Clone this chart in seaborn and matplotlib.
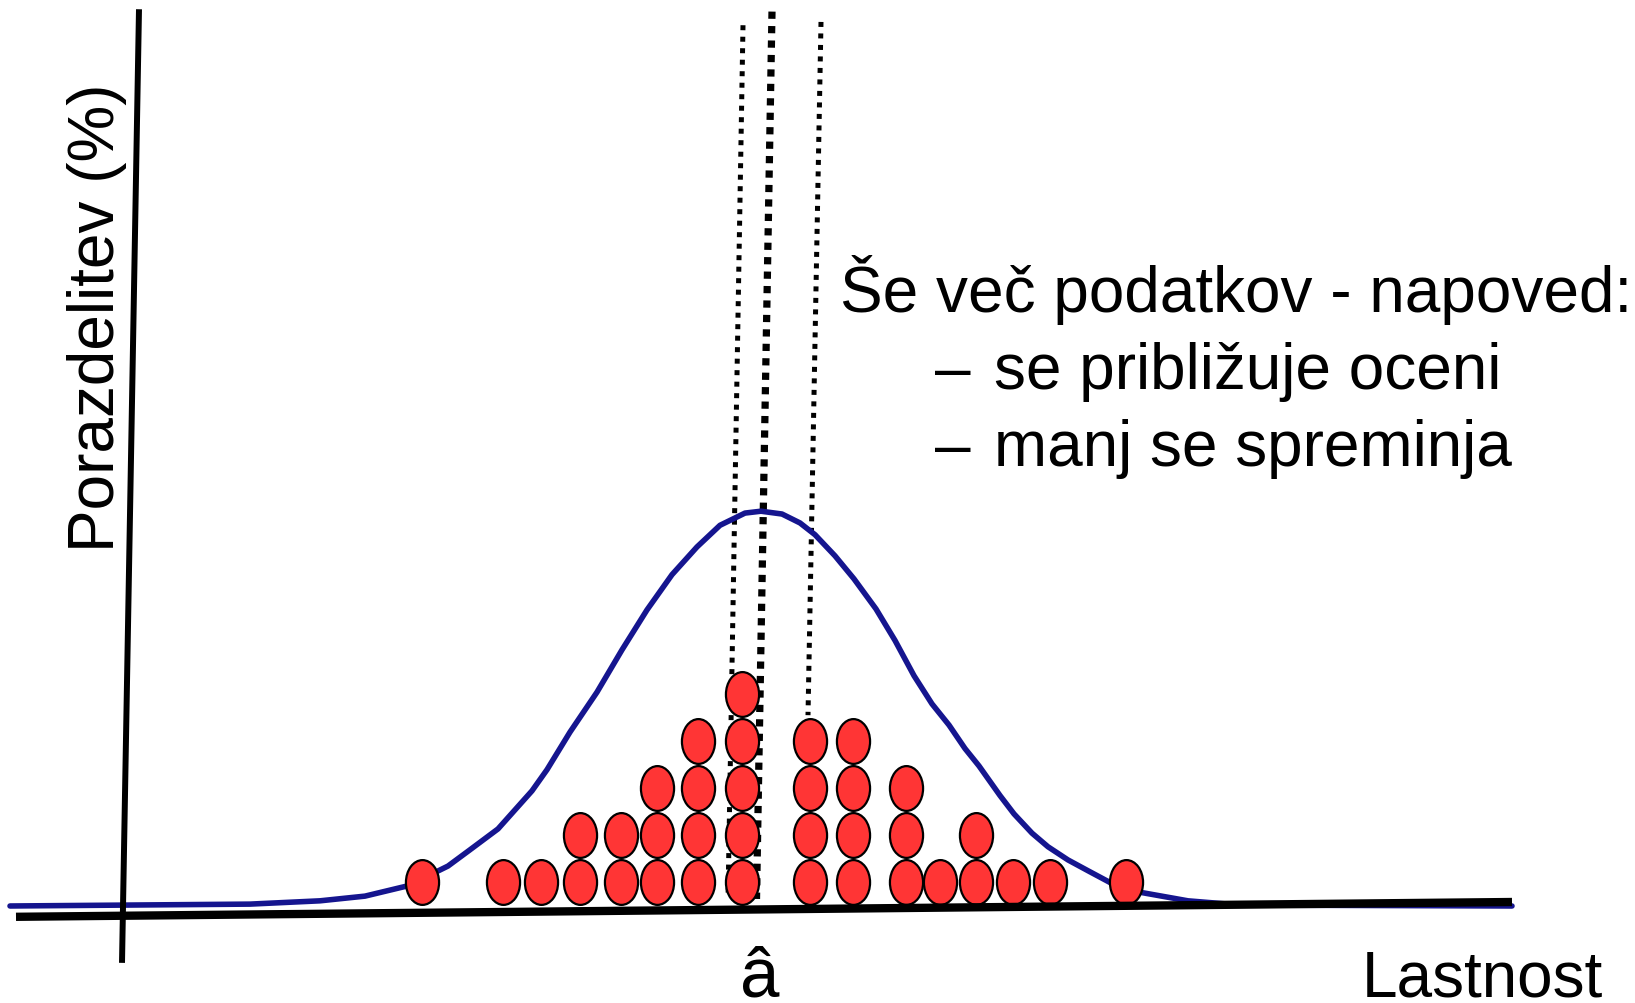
import numpy as np
import pandas as pd
import matplotlib
matplotlib.use("Agg")  # no display in the sandbox
import matplotlib.pyplot as plt
import matplotlib.path as mpath
import seaborn as sns

# Stacked sample points: column position on the "Lastnost" axis and how many
# points are stacked in that column (1 unit in y = one point)
column_x = [-3.38, -2.57, -2.19, -1.80, -1.39, -1.03, -0.62, -0.18,
            0.50, 0.93, 1.46, 1.80, 2.16, 2.53, 2.90, 3.66]
column_counts = [1, 1, 1, 2, 2, 3, 4, 5, 4, 4, 3, 1, 2, 1, 1, 1]

# Predictive distribution curve
curve_x = [-7.50, -5.10, -4.40, -3.95, -3.52, -3.12, -2.91, -2.62, -2.28,
           -2.13, -1.90, -1.63, -1.38, -1.13, -0.88, -0.63, -0.40, -0.15,
           0.01, 0.22, 0.40, 0.55, 0.75, 0.94, 1.16, 1.35, 1.54, 1.72,
           1.89, 2.05, 2.19, 2.40, 2.54, 2.72, 2.88, 3.08, 3.28, 3.50,
           3.78, 4.28, 4.80, 7.52]
curve_y = [0.00, 0.04, 0.11, 0.21, 0.43, 0.85, 1.18, 1.64, 2.45,
           2.90, 3.70, 4.55, 5.45, 6.30, 7.05, 7.64, 8.10, 8.36,
           8.40, 8.34, 8.15, 7.90, 7.45, 6.96, 6.32, 5.65, 4.90, 4.30,
           3.85, 3.35, 2.98, 2.35, 1.96, 1.55, 1.26, 0.98, 0.75, 0.50,
           0.30, 0.11, 0.02, 0.00]

# Estimate (thick dotted) and spread (thin dotted) lines: top and bottom ends
estimate_x = [0.12, -0.035]
estimate_y = [19.03, 0.15]
spread_left_x = [-0.17, -0.32]
spread_left_y = [18.74, 0.15]
spread_right_x = [0.61, 0.48]
spread_right_y = [18.81, 4.06]

# Hand-drawn (slightly tilted) axes
yaxis_x = [-6.21, -6.38]
yaxis_y = [19.08, -1.21]
xaxis_x = [-7.44, 7.52]
xaxis_y = [-0.23, 0.085]

y_label = "Porazdelitev (%)"
x_label = "Lastnost"
estimate_label = "â"
note_title = "Še več podatkov - napoved:"
note_items = ["se približuje oceni", "manj se spreminja"]

sns.set_style("white")
plt.rcParams["font.family"] = ["Liberation Sans", "DejaVu Sans"]
plt.rcParams["text.color"] = "black"

W, H = 1635, 1004
fig = plt.figure(figsize=(W / 100, H / 100), dpi=100)
ax = fig.add_axes([0, 0, 1, 1])
ax.set_xlim(-7.60, 8.75)
ax.set_ylim(-2.064, 19.298)
ax.axis("off")

# dotted lines behind everything
ax.plot(spread_left_x, spread_left_y, color="black", lw=3.6,
        linestyle=(0, (1.0, 1.3)), zorder=1)
ax.plot(spread_right_x, spread_right_y, color="black", lw=3.6,
        linestyle=(0, (1.0, 1.3)), zorder=1)
ax.plot(estimate_x, estimate_y, color="black", lw=5.2,
        linestyle=(0, (1.0, 1.0)), zorder=1)

# distribution curve
sns.lineplot(x=curve_x, y=curve_y, color="#15158f", lw=4.0, sort=False,
             estimator=None, ax=ax, zorder=2, solid_joinstyle="round")

# stacked points as ellipses
dots = pd.DataFrame({
    "x": np.repeat(column_x, column_counts),
    "y": np.concatenate([np.arange(n) + 0.5 for n in column_counts]),
})
circle = mpath.Path.unit_circle()
ellipse = mpath.Path(circle.vertices * np.array([0.74, 1.0]), circle.codes)
sns.scatterplot(data=dots, x="x", y="y", marker=ellipse, s=1040,
                color="#ff3535", edgecolor="black", linewidth=1.6,
                ax=ax, zorder=3, legend=False)

# axes on top
ax.plot(yaxis_x, yaxis_y, color="black", lw=4.3, solid_capstyle="butt", zorder=4)
ax.plot(xaxis_x, xaxis_y, color="black", lw=6, solid_capstyle="butt", zorder=4)

# texts
fig.text(97 / W, 1 - 318 / H, y_label, rotation=90, ha="center", va="center",
         fontsize=46)
fig.text(1362 / W, 1 - 997 / H, x_label, ha="left", va="baseline", fontsize=46)
fig.text(760 / W, 1 - 997 / H, estimate_label, ha="center", va="baseline",
         fontsize=51)
fig.text(840 / W, 1 - 312 / H, note_title, ha="left", va="baseline", fontsize=46)
for item, py in zip(note_items, [389, 466]):
    fig.text(935 / W, 1 - py / H, "–", ha="left", va="baseline", fontsize=46)
    fig.text(994 / W, 1 - py / H, item, ha="left", va="baseline", fontsize=46)

fig.savefig("out.png", dpi=100)
plt.close(fig)
